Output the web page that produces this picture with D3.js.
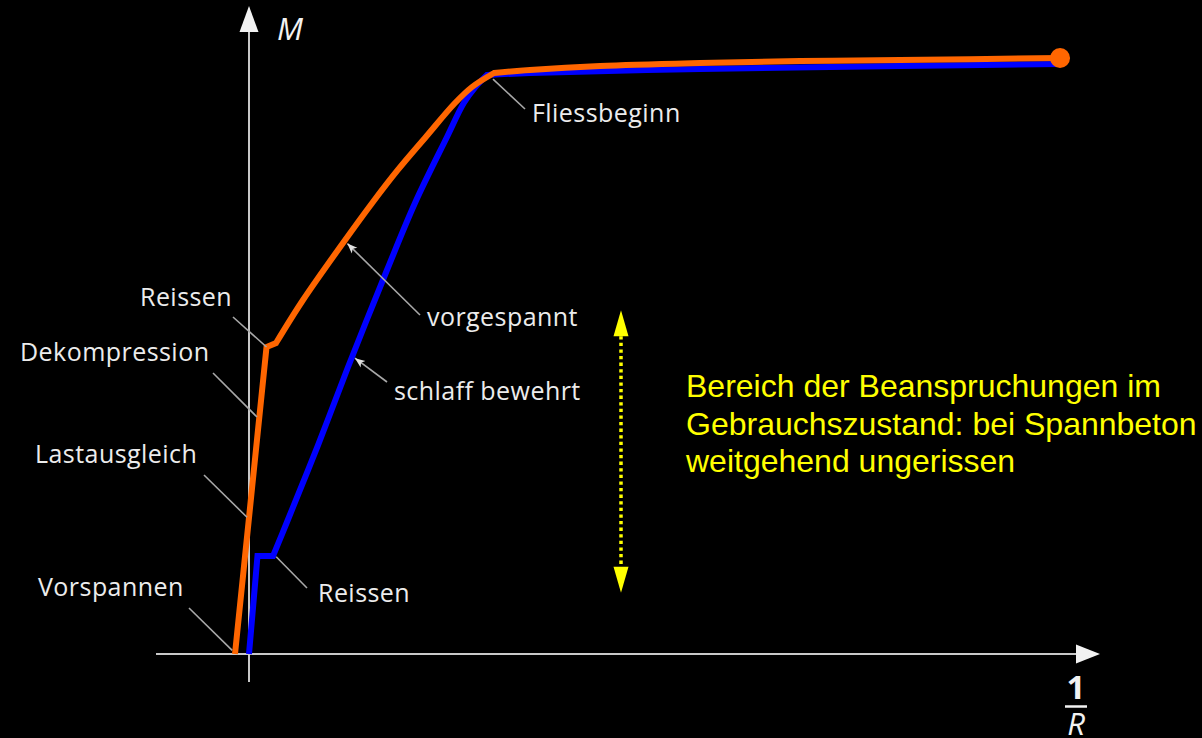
<!DOCTYPE html>
<html>
<head>
<meta charset="utf-8">
<script src="https://cdn.jsdelivr.net/npm/d3@7"></script>
<style>
  html, body { margin: 0; padding: 0; background: #000; }
  svg { display: block; }
</style>
</head>
<body>
<svg id="chart" width="1202" height="738"></svg>
<script>
// ---- data (arbitrary units: x = curvature 1/R, y = moment M) ----
const prestressedX = [-1.75, 2.19, 3.38, 6.75, 11.75, 15.4, 18.6, 22.1, 25.75, 27.88, 30.63, 35.13, 43.88, 56.38, 68.88, 81.38, 101.38];
const prestressedY = [0, 51.17, 51.83, 59.0, 68.5, 75.17, 80.67, 86.17, 91.83, 94.5, 96.83, 97.33, 98.0, 98.5, 98.83, 99.0, 99.33];
const prestressedKinks = [0, 1, 2, 10, 16];   // indices where the curve has corners
const reinforcedX  = [0, 1.06, 3.0, 4.75, 8.63, 12.38, 17.25, 20.75, 24.75, 26.85, 28.3, 29.75, 35.13, 56.38, 81.38, 101.38];
const reinforcedY  = [0, 16.33, 16.33, 22.0, 34.83, 47.83, 64.0, 75.17, 86.17, 91.83, 94.5, 96.5, 96.83, 97.5, 98.0, 98.33];
const reinforcedKinks = [0, 1, 2, 11, 15];
const serviceRangeX = 46.5;
const serviceRangeY = [10.2, 57.3];
const serviceText = ["Bereich der Beanspruchungen im", "Gebrauchszustand: bei Spannbeton", "weitgehend ungerissen"];

// annotation labels: text + anchor point on the curves (data units)
const annotations = [
  { text: "Reissen",        anchor: [2.19, 51.17] },
  { text: "Dekompression",  anchor: [1.0, 39.5] },
  { text: "Lastausgleich",  anchor: [-0.25, 22.8] },
  { text: "Vorspannen",     anchor: [-2.1, 0.6] },
  { text: "Reissen",        anchor: [3.4, 16.2] },
  { text: "Fliessbeginn",   anchor: [30.5, 95.8] },
  { text: "vorgespannt",    anchor: [12.3, 68.4], arrow: true },
  { text: "schlaff bewehrt",anchor: [13.25, 49.3], arrow: true }
];
// label layout (pixels): text start / baseline, and leader start
const labelLayout = [
  { tx: 140, ty: 306, lx: 233, ly: 317 },
  { tx: 20,  ty: 361, lx: 213, ly: 373 },
  { tx: 35,  ty: 463, lx: 204, ly: 475 },
  { tx: 38,  ty: 596, lx: 189, ly: 608 },
  { tx: 318, ty: 602, lx: 307, ly: 588 },
  { tx: 532, ty: 122, lx: 525, ly: 109 },
  { tx: 427, ty: 326, lx: 420, ly: 315 },
  { tx: 394, ty: 400, lx: 387, ly: 382 }
];

const svg = d3.select("#chart");
svg.append("rect").attr("width", 1202).attr("height", 738).attr("fill", "#000");

const x = d3.scaleLinear().domain([0, 100]).range([249, 1049]);
const y = d3.scaleLinear().domain([0, 100]).range([654, 54]);

// ---- axes ----
const axisColor = "#c8c8c8";
svg.append("line").attr("x1", 156).attr("x2", 1078).attr("y1", y(0)).attr("y2", y(0))
  .attr("stroke", axisColor).attr("stroke-width", 2);
svg.append("line").attr("x1", x(0)).attr("x2", x(0)).attr("y1", 682).attr("y2", 30)
  .attr("stroke", axisColor).attr("stroke-width", 2);
svg.append("path").attr("d", `M${x(0)},6 L${x(0)-9.5},32 L${x(0)+9.5},32 Z`).attr("fill", "#f2f2f2");
svg.append("path").attr("d", `M1100,${y(0)} L1076,${y(0)-9.5} L1076,${y(0)+9.5} Z`).attr("fill", "#f2f2f2");

svg.append("text").attr("x", 277).attr("y", 40).text("M")
  .attr("font-family", "Open Sans, sans-serif").attr("font-style", "italic")
  .attr("font-size", 31).attr("fill", "#f2f2f2");
svg.append("text").attr("x", 1076).attr("y", 699).text("1").attr("text-anchor", "middle")
  .attr("font-family", "Open Sans, sans-serif").attr("font-weight", "bold")
  .attr("font-size", 33).attr("fill", "#f2f2f2");
svg.append("line").attr("x1", 1065).attr("x2", 1087).attr("y1", 706.5).attr("y2", 706.5)
  .attr("stroke", "#f2f2f2").attr("stroke-width", 2.5);
svg.append("text").attr("x", 1076).attr("y", 735).text("R").attr("text-anchor", "middle")
  .attr("font-family", "Open Sans, sans-serif").attr("font-style", "italic")
  .attr("font-size", 31).attr("fill", "#f2f2f2");

// ---- curves: straight pieces between kinks of length 2, smooth otherwise ----
function curvePath(pts, kinks) {
  let d = "";
  for (let k = 0; k < kinks.length - 1; k++) {
    const seg = pts.slice(kinks[k], kinks[k + 1] + 1);
    const gen = d3.line().x(p => x(p[0])).y(p => y(p[1]))
      .curve(seg.length > 2 ? d3.curveCatmullRom.alpha(0.5) : d3.curveLinear);
    let s = gen(seg);
    if (k > 0) s = "L" + s.slice(1);
    d += s;
  }
  return d;
}
const reinforced = reinforcedX.map((v, i) => [v, reinforcedY[i]]);
const prestressed = prestressedX.map((v, i) => [v, prestressedY[i]]);

svg.append("path").attr("d", curvePath(reinforced, reinforcedKinks)).attr("fill", "none")
  .attr("stroke", "#0000ff").attr("stroke-width", 6).attr("stroke-linejoin", "miter");
svg.append("path").attr("d", curvePath(prestressed, prestressedKinks)).attr("fill", "none")
  .attr("stroke", "#ff6600").attr("stroke-width", 6).attr("stroke-linejoin", "miter");
const last = prestressed[prestressed.length - 1];
svg.append("circle").attr("cx", x(last[0])).attr("cy", y(last[1])).attr("r", 10).attr("fill", "#ff6600");

// ---- annotations ----
const leaderColor = "#a8a8a8";
svg.append("defs").append("marker").attr("id", "arr")
  .attr("viewBox", "0 0 10 10").attr("refX", 10).attr("refY", 5)
  .attr("markerWidth", 10).attr("markerHeight", 10).attr("markerUnits", "userSpaceOnUse")
  .attr("orient", "auto")
  .append("path").attr("d", "M0,1 L10,5 L0,9 L2.5,5 Z").attr("fill", "#e0e0e0");

annotations.forEach((a, i) => {
  const L = labelLayout[i];
  const ln = svg.append("line").attr("x1", L.lx).attr("y1", L.ly)
    .attr("x2", x(a.anchor[0])).attr("y2", y(a.anchor[1]))
    .attr("stroke", leaderColor).attr("stroke-width", 1.6);
  if (a.arrow) ln.attr("marker-end", "url(#arr)");
  svg.append("text").attr("x", L.tx).attr("y", L.ty).text(a.text)
    .attr("font-family", "Open Sans, sans-serif").attr("font-size", 25)
    .attr("letter-spacing", 0.45).attr("fill", "#ececec");
});

// ---- service range arrow ----
const yellow = "#ffff00";
const sx = x(serviceRangeX);
const yTop = y(serviceRangeY[1]), yBot = y(serviceRangeY[0]);
svg.append("line").attr("x1", sx).attr("x2", sx).attr("y1", yTop + 26).attr("y2", yBot - 26)
  .attr("stroke", yellow).attr("stroke-width", 3.5).attr("stroke-dasharray", "3.3,3.3");
svg.append("path").attr("d", `M${sx},${yTop} L${sx-7.5},${yTop+26} L${sx+7.5},${yTop+26} Z`).attr("fill", yellow);
svg.append("path").attr("d", `M${sx},${yBot} L${sx-7.5},${yBot-26} L${sx+7.5},${yBot-26} Z`).attr("fill", yellow);

const t = svg.append("text").attr("font-family", "Liberation Sans, Arial, sans-serif")
  .attr("font-size", 32).attr("fill", yellow);
serviceText.forEach((s, i) => {
  t.append("tspan").attr("x", 686).attr("y", 397 + i * 37.5).text(s);
});
</script>
</body>
</html>
